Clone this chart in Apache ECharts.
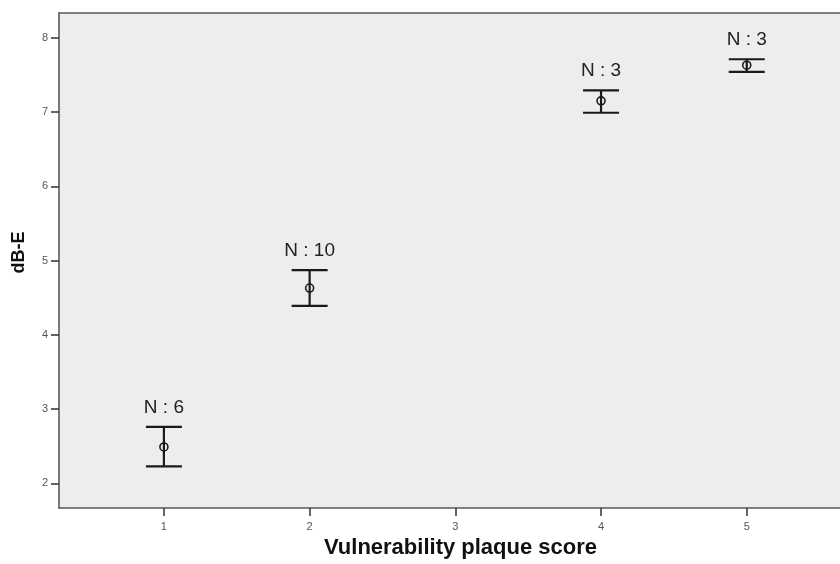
<!DOCTYPE html>
<html>
<head>
<meta charset="utf-8">
<script src="https://cdn.jsdelivr.net/npm/echarts@6/dist/echarts.min.js"></script>
<style>html,body{margin:0;padding:0;background:#fff;}#c{width:840px;height:564px;}</style>
</head>
<body>
<div id="c"></div>
<script>
// Data
const scores = [1, 2, 4, 5];
const means  = [2.49, 4.63, 7.15, 7.63];
const lower  = [2.23, 4.39, 6.99, 7.54];
const upper  = [2.76, 4.87, 7.29, 7.71];
const counts = [6, 10, 3, 3];
const xTicks = [1, 2, 3, 4, 5];
const yTicks = [2, 3, 4, 5, 6, 7, 8];

const data = scores.map((s, i) => [s, means[i], lower[i], upper[i], counts[i]]);

const chart = echarts.init(document.getElementById('c'), null, {renderer: 'canvas'});
const ink = '#1a1a1a';
const frame = {color: '#5a5a5a', width: 1.6};
chart.setOption({
  animation: false,
  backgroundColor: '#ffffff',
  grid: {
    left: 59, top: 13, right: 0, bottom: 52,
    show: true, backgroundColor: '#ededed', borderWidth: 0
  },
  xAxis: [{
    type: 'value', min: 0.28, max: 5.64, position: 'bottom',
    name: 'Vulnerability plaque score', nameLocation: 'middle', nameGap: 28,
    nameTextStyle: {fontFamily: 'Liberation Sans, Arial', fontWeight: 'bold', fontSize: 22, color: '#111', padding: [0, 0, 0, 22]},
    axisLine: {show: true, lineStyle: frame},
    axisTick: {show: true, customValues: xTicks, length: 8, lineStyle: {color: '#333', width: 1.5}},
    axisLabel: {customValues: xTicks, fontFamily: 'Liberation Sans, Arial', fontSize: 11, color: '#555', margin: 13},
    splitLine: {show: false}
  }, {
    type: 'value', min: 0.28, max: 5.64, position: 'top',
    axisLine: {show: true, lineStyle: frame},
    axisTick: {show: false}, axisLabel: {show: false}, splitLine: {show: false}
  }],
  yAxis: {
    type: 'value', min: 1.667, max: 8.333,
    name: 'dB-E', nameLocation: 'middle', nameGap: 31,
    nameTextStyle: {fontFamily: 'Liberation Sans, Arial', fontWeight: 'bold', fontSize: 18, color: '#111', padding: [0, 0, 0, 16]},
    axisLine: {show: true, lineStyle: frame},
    axisTick: {show: true, customValues: yTicks, length: 8, lineStyle: {color: '#333', width: 1.5}},
    axisLabel: {customValues: yTicks, fontFamily: 'Liberation Sans, Arial', fontSize: 11, color: '#555', margin: 11},
    splitLine: {show: false}
  },
  series: [{
    type: 'custom',
    xAxisIndex: 0,
    data: data,
    encode: {x: 0, y: [1, 2, 3]},
    renderItem: function (params, api) {
      const x = api.value(0);
      const pm = api.coord([x, api.value(1)]);
      const pl = api.coord([x, api.value(2)]);
      const pu = api.coord([x, api.value(3)]);
      const hw = 18;
      const ls = {stroke: ink, lineWidth: 2.2};
      return {
        type: 'group',
        children: [
          {type: 'line', shape: {x1: pm[0], y1: pl[1], x2: pm[0], y2: pu[1]}, style: ls},
          {type: 'line', shape: {x1: pm[0] - hw, y1: pl[1], x2: pm[0] + hw, y2: pl[1]}, style: ls},
          {type: 'line', shape: {x1: pm[0] - hw, y1: pu[1], x2: pm[0] + hw, y2: pu[1]}, style: ls},
          {type: 'circle', shape: {cx: pm[0], cy: pm[1], r: 4}, style: {fill: 'none', stroke: ink, lineWidth: 1.6}},
          {type: 'text', x: pm[0], y: pu[1] - 10, style: {
            text: 'N : ' + api.value(4), fill: '#222', fontSize: 19,
            fontFamily: 'Liberation Sans, Arial', align: 'center', verticalAlign: 'bottom'
          }}
        ]
      };
    }
  }]
});
</script>
</body>
</html>
